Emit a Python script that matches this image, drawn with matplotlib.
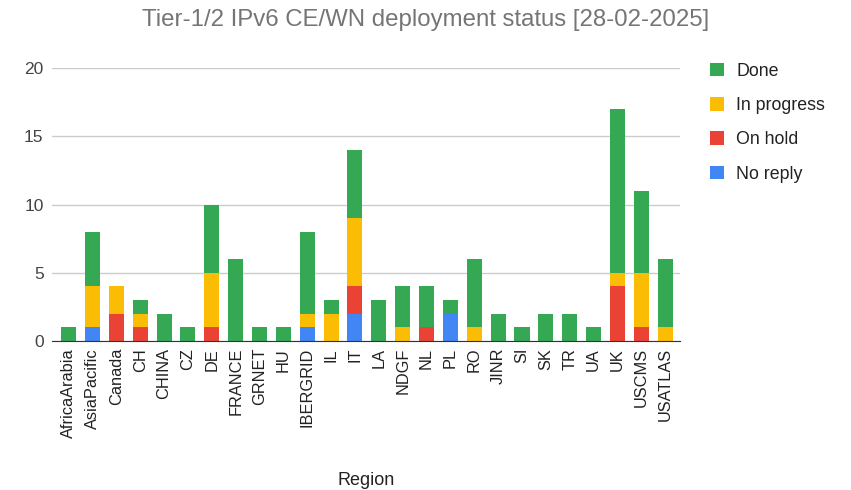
import matplotlib
matplotlib.use("Agg")
import matplotlib.pyplot as plt
import numpy as np

plt.rcParams['font.family'] = ['Liberation Sans', 'DejaVu Sans']

regions = ['AfricaArabia', 'AsiaPacific', 'Canada', 'CH', 'CHINA', 'CZ', 'DE', 'FRANCE',
           'GRNET', 'HU', 'IBERGRID', 'IL', 'IT', 'LA', 'NDGF', 'NL', 'PL', 'RO',
           'JINR', 'SI', 'SK', 'TR', 'UA', 'UK', 'USCMS', 'USATLAS']
no_reply    = [0, 1, 0, 0, 0, 0, 0, 0, 0, 0, 1, 0, 2, 0, 0, 0, 2, 0, 0, 0, 0, 0, 0, 0, 0, 0]
on_hold     = [0, 0, 2, 1, 0, 0, 1, 0, 0, 0, 0, 0, 2, 0, 0, 1, 0, 0, 0, 0, 0, 0, 0, 4, 1, 0]
in_progress = [0, 3, 2, 1, 0, 0, 4, 0, 0, 0, 1, 2, 5, 0, 1, 0, 0, 1, 0, 0, 0, 0, 0, 1, 4, 1]
done        = [1, 4, 0, 1, 2, 1, 5, 6, 1, 1, 6, 1, 5, 3, 3, 3, 1, 5, 2, 1, 2, 2, 1, 12, 6, 5]

series = [('No reply', no_reply, '#4285F4'),
          ('On hold', on_hold, '#EA4335'),
          ('In progress', in_progress, '#FBBC04'),
          ('Done', done, '#34A853')]

fig = plt.figure(figsize=(8.51, 4.9), dpi=100)
ax = fig.add_axes([0.061, 0.304, 0.738, 0.557])

x = np.arange(len(regions))
bottom = np.zeros(len(regions))
handles = {}
for name, vals, col in series:
    vals = np.array(vals)
    b = ax.bar(x, vals, 0.63, bottom=bottom, color=col, label=name, zorder=3)
    handles[name] = b
    bottom = bottom + vals

ax.set_xlim(-0.7, 25.62)
ax.set_ylim(0, 20)
ax.set_yticks([0, 5, 10, 15, 20])
ax.grid(axis='y', color='#cccccc', linewidth=1, zorder=0)
for s in ['top', 'right', 'left']:
    ax.spines[s].set_visible(False)
ax.spines['bottom'].set_color('#333333')
ax.spines['bottom'].set_zorder(4)
ax.tick_params(axis='both', length=0)
ax.tick_params(axis='y', labelsize=12.5, labelcolor='#444444', pad=6)
ax.set_xticks(x)
ax.set_xticklabels(regions, rotation=90, fontsize=11.8, color='#222222')
ax.tick_params(axis='x', pad=5)
ax.set_xlabel('Region', fontsize=13, color='#222222', labelpad=25)

fig.suptitle('Tier-1/2 IPv6 CE/WN deployment status [28-02-2025]',
             fontsize=17.3, color='#757575', x=0.5, y=0.982)

order = ['Done', 'In progress', 'On hold', 'No reply']
fig.legend([handles[n] for n in order], order, loc='upper left',
           bbox_to_anchor=(0.815, 0.905), frameon=False, fontsize=12.8,
           handlelength=0.8, handleheight=0.8, labelspacing=0.98,
           handletextpad=0.7, labelcolor='#222222')

fig.savefig('out.png', dpi=100)
